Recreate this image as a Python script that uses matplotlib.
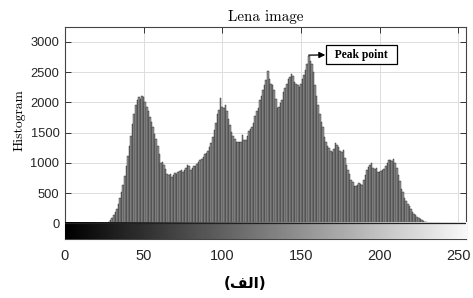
import numpy as np
import matplotlib
matplotlib.use("Agg")
import matplotlib.pyplot as plt

# histogram counts of the Lena image, grey levels 0..255
counts_low = [0] * 27
counts_mid = [
    10, 25, 50, 90, 130, 180, 240, 320, 410, 510,            # 27-36
    630, 780, 950, 1110, 1270, 1450, 1640, 1810, 1960, 2040,  # 37-46
    2080, 2060, 2110, 2080, 2010, 1920, 1850, 1760, 1680, 1590,  # 47-56
    1480, 1390, 1270, 1150, 1000, 1010, 960, 900, 820, 790,   # 57-66
    810, 770, 800, 830, 820, 850, 870, 880, 850, 880,         # 67-76
    920, 960, 940, 880, 910, 940, 950, 980, 1010, 1040,       # 77-86
    1060, 1100, 1140, 1170, 1200, 1260, 1320, 1420, 1540, 1660,  # 87-96
    1800, 1880, 2070, 1930, 1910, 1960, 1850, 1730, 1620, 1510,  # 97-106
    1440, 1400, 1350, 1340, 1350, 1350, 1460, 1370, 1380, 1450,  # 107-116
    1520, 1560, 1590, 1660, 1780, 1850, 1900, 2030, 2110, 2200,  # 117-126
    2290, 2370, 2520, 2380, 2310, 2290, 2200, 2060, 1900, 1920,  # 127-136
    1990, 2040, 2170, 2240, 2310, 2390, 2420, 2460, 2430, 2340,  # 137-146
    2310, 2290, 2260, 2310, 2380, 2450, 2540, 2630, 2760, 2690,  # 147-156
    2640, 2500, 2290, 2100, 1960, 1810, 1680, 1590, 1420, 1340,  # 157-166
    1280, 1240, 1190, 1180, 1220, 1330, 1290, 1260, 1200, 1180,  # 167-176
    1210, 1080, 960, 880, 820, 720, 690, 610, 620, 640,       # 177-186
    660, 650, 630, 720, 800, 880, 930, 960, 990, 920,         # 187-196
    900, 910, 840, 850, 870, 880, 890, 950, 990, 1040,        # 197-206
    1050, 1030, 1070, 990, 910, 800, 700, 560, 510, 420,      # 207-216
    360, 320, 280, 230, 190, 160, 140, 110, 90, 70,           # 217-226
    50, 40, 25, 15, 8,                                        # 227-231
]
counts_high = [0] * 24
counts = np.array(counts_low + counts_mid + counts_high)
levels = np.arange(len(counts))

peak_level = 155
peak_label = "Peak point"
title = "Lena image"
ylab = "Histogram"
caption = "(\ufed2\ufedf\ufe8d)"  # "(الف)" written in visual order

xticks = [0, 50, 100, 150, 200, 250]
yticks = [0, 500, 1000, 1500, 2000, 2500, 3000]

fig = plt.figure(figsize=(4.73, 2.98), dpi=100)
ax = fig.add_axes([0.1374, 0.197, 0.8478, 0.7134])

ax.bar(levels, counts, width=1.0, color="#979797", edgecolor="#161616",
       linewidth=0.28, zorder=2)

# grey ramp under the histogram, like imhist
ramp = np.linspace(0, 255, 256).reshape(1, -1)
ax.imshow(ramp, cmap="gray", vmin=0, vmax=262, aspect="auto",
          extent=(0, 255, -265, 0), zorder=3)
ax.axhline(0, color="#222222", lw=0.9, zorder=4)

ax.set_xlim(0, 255)
ax.set_ylim(-265, 3250)
ax.set_xticks(xticks)
ax.set_yticks(yticks)
ax.grid(True, color="#dddddd", lw=0.7)
ax.set_axisbelow(True)
ax.tick_params(direction="in", length=4, width=0.7, color="#333333",
               top=True, right=True, labelcolor="#262626")
ax.tick_params(axis="x", labelsize=10.5, pad=7)
ax.tick_params(axis="y", labelsize=9.3, pad=4)
for t in ax.get_xticklabels() + ax.get_yticklabels():
    t.set_family("Liberation Sans")
for s in ax.spines.values():
    s.set_color("#444444")
    s.set_linewidth(0.8)

ax.set_title(title, fontname="cmr10", fontsize=10.8, pad=4)
ax.set_ylabel(ylab, fontname="cmr10", fontsize=9.8)
ax.yaxis.set_label_coords(-0.098, 0.561)

ax.annotate("  " + peak_label + "  ", xy=(peak_level, 2780), xytext=(188.5, 2790),
            ha="center", va="center", fontsize=8.3, fontweight="bold",
            family="Liberation Serif",
            bbox=dict(boxstyle="square,pad=0.3", fc="white", ec="black", lw=0.9),
            arrowprops=dict(arrowstyle="<|-", color="black", lw=0.9,
                            mutation_scale=9, shrinkA=0, shrinkB=0),
            zorder=6)

fig.text(0.518, 0.05, caption, ha="center", va="center", fontsize=11,
         fontweight="bold", family=["DejaVu Sans"])

fig.savefig("out.png", dpi=100)
